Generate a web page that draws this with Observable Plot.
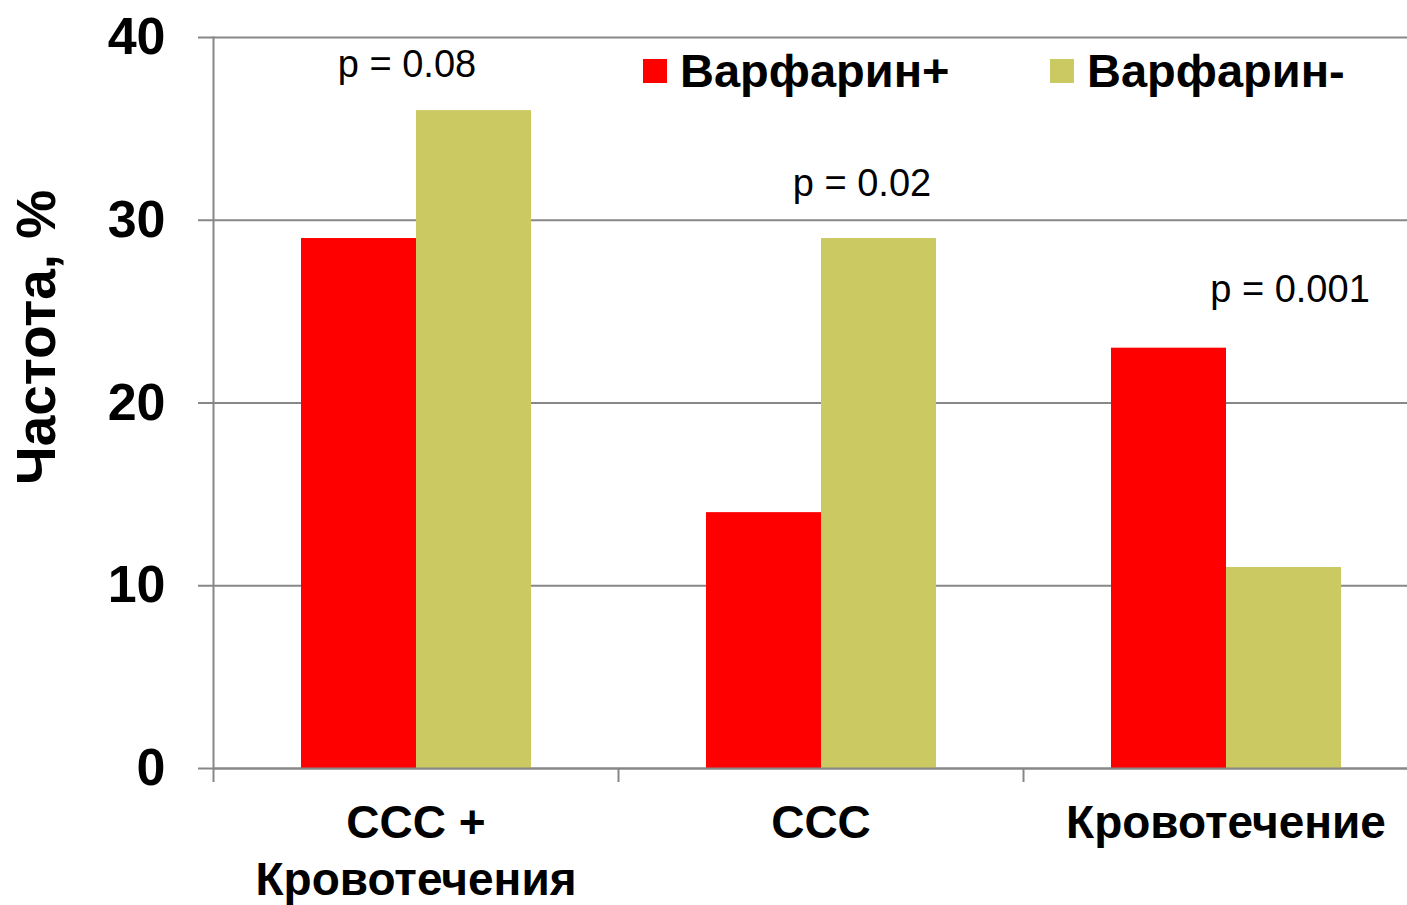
<!DOCTYPE html>
<html>
<head>
<meta charset="utf-8">
<script src="https://cdn.jsdelivr.net/npm/d3@7"></script>
<script src="https://cdn.jsdelivr.net/npm/@observablehq/plot@0.6"></script>
<style>
  html, body { margin: 0; padding: 0; background: #fff; overflow: hidden; }
  #chart { position: relative; width: 1407px; height: 905px; overflow: hidden; }
  #chart > svg { display: block; max-width: none !important; width: 1428px !important; height: 905px !important; }
  #legend { position: absolute; left: 643px; top: 45px; }
  #legend div { display: flex !important; flex-wrap: nowrap !important; margin: 0 !important;
    font: bold 47px "Liberation Sans", Arial, sans-serif !important; color: #000 !important; }
  #legend span { display: inline-flex !important; align-items: center !important;
    width: 407px; margin: 0 !important; line-height: 1.1 !important; white-space: nowrap; }
  #legend span svg { margin-right: 13px !important; flex: none; }
</style>
</head>
<body>
<div id="chart"><div id="legend"></div></div>
<script>
// Complication frequency by warfarin use
const categories = ["ССС +\nКровотечения", "ССС", "Кровотечение"];
const series = ["Варфарин+", "Варфарин-"];
const warfarinPlus = [29, 14, 23];
const warfarinMinus = [36, 29, 11];
const pValues = ["p = 0.08", "p = 0.02", "p = 0.001"];
const yTicks = [0, 10, 20, 30, 40];
const colors = ["#ff0000", "#cbc962"];

const rows = categories.flatMap((c, i) => [
  {category: c, series: series[0], value: warfarinPlus[i]},
  {category: c, series: series[1], value: warfarinMinus[i]}
]);
const pRows = categories.map((c, i) => ({
  category: c,
  label: pValues[i],
  top: Math.max(warfarinPlus[i], warfarinMinus[i])
}));
// nudges for each p-value annotation above its group
const pNudge = [{dx: -9, dy: -46}, {dx: 41, dy: -55}, {dx: 64, dy: -58}];

const axisColor = "#878787";
const font = '"Liberation Sans", Arial, sans-serif';

const chart = Plot.plot({
  width: 1428,
  height: 905,
  marginLeft: 213,
  marginRight: 0,
  marginTop: 37,
  marginBottom: 137,
  style: {fontFamily: font, background: "#fff", color: "#000"},
  fx: {domain: categories, padding: 0, label: null},
  x: {domain: series, paddingInner: 0, paddingOuter: 0.76, axis: null, label: null},
  y: {domain: [0, 40], label: null},
  color: {domain: series, range: colors},
  marks: [
    Plot.gridY(yTicks, {stroke: axisColor, strokeOpacity: 1, strokeWidth: 2}),
    Plot.barY(rows, {fx: "category", x: "series", y: "value", fill: "series"}),
    Plot.ruleY([0], {stroke: axisColor, strokeWidth: 2}),
    Plot.frame({anchor: "left", stroke: axisColor, strokeWidth: 2, facet: "super"}),
    Plot.axisY(yTicks, {
      tickSize: 15, tickPadding: 33, stroke: axisColor, strokeWidth: 2,
      fontSize: 52, fontWeight: "bold", label: null
    }),
    // boundary ticks between the category groups
    Plot.axisFx({anchor: "bottom", tickSize: 14, text: null, dx: -202.5, stroke: axisColor, strokeWidth: 2, label: null}),
    Plot.axisFx({anchor: "bottom", tickSize: 0, tickPadding: 29, fontSize: 46, fontWeight: "bold", lineHeight: 1.24, label: null}),
    ...pRows.map((d, i) => Plot.text([d], {
      fx: "category", y: "top", text: "label", fontSize: 38,
      dx: pNudge[i].dx, dy: pNudge[i].dy
    })),
    Plot.text(["Частота, %"], {
      frameAnchor: "left", dx: -176, dy: 82, rotate: -90,
      fontSize: 55, fontWeight: "bold", facet: "super"
    })
  ]
});

const holder = document.getElementById("chart");
holder.insertBefore(chart, holder.firstChild);

const legend = Plot.legend({
  color: {type: "ordinal", domain: series, range: colors},
  swatchSize: 24
});
document.getElementById("legend").appendChild(legend);
</script>
</body>
</html>
